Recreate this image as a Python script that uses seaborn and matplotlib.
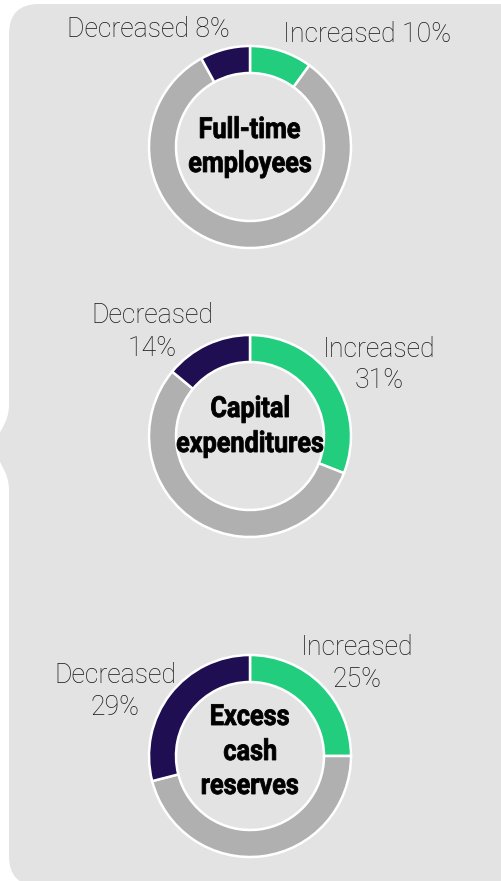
import numpy as np
import matplotlib
matplotlib.use("Agg")
import matplotlib.pyplot as plt
import seaborn as sns
from matplotlib.path import Path
from matplotlib.patches import PathPatch
from matplotlib.textpath import TextPath
from matplotlib.font_manager import FontProperties
from matplotlib.transforms import Affine2D

# ── Data ──
TOPICS = [["Full-time", "employees"], ["Capital", "expenditures"], ["Excess", "cash", "reserves"]]
INCREASED = [10, 31, 25]
DECREASED = [8, 14, 29]
UNCHANGED = [100 - i - d for i, d in zip(INCREASED, DECREASED)]

COLORS = {"Increased": "#22CE7E", "Unchanged": "#B0B0B0", "Decreased": "#1F0E52"}
BG = "#E3E3E3"

sns.set_theme(style="white")
LIGHT = ["Roboto", "Liberation Sans", "DejaVu Sans"]
BOLD_PROP = FontProperties(family=["Roboto", "DejaVu Sans"], weight="bold")

W, H = 501, 881
fig = plt.figure(figsize=(W / 100, H / 100), dpi=100)
ax = fig.add_axes([0, 0, 1, 1])


def py(y):
    # pixel row (top-down) -> data y
    return H - y


# ── Background panel with a left pointer ──
r = 30
verts = [
    (9 + r, py(4)), (W + 20, py(4)), (W + 20, py(H + 20)), (9 + r, py(H + 5)),
    (9, py(H + 5)), (9, py(H + 5 - r)),
    (9, py(490)),
    (9, py(470)), (-4, py(462)), (-4, py(447)),
    (-4, py(432)), (9, py(425)), (9, py(405)),
    (9, py(4 + r)),
    (9, py(4)), (9 + r, py(4)),
    (9 + r, py(4)),
]
codes = [Path.MOVETO, Path.LINETO, Path.LINETO, Path.LINETO,
         Path.CURVE3, Path.CURVE3,
         Path.LINETO,
         Path.CURVE4, Path.CURVE4, Path.CURVE4,
         Path.CURVE4, Path.CURVE4, Path.CURVE4,
         Path.LINETO,
         Path.CURVE3, Path.CURVE3,
         Path.CLOSEPOLY]
ax.add_patch(PathPatch(Path(verts, codes), facecolor=BG, edgecolor="none", zorder=0))


def condensed_text(s, cx, baseline, size=29, squeeze=0.87):
    # bold label squeezed horizontally to mimic a condensed face
    tp = TextPath((0, 0), s, size=size, prop=BOLD_PROP)
    ext = tp.get_extents()
    w = ext.width * squeeze
    tr = Affine2D().translate(-ext.x0, 0).scale(squeeze, 1).translate(cx - w / 2, py(baseline))
    ax.add_patch(PathPatch(tr.transform_path(tp), facecolor="black", edgecolor="black",
                           linewidth=0.6, zorder=5))


# ── Donuts ──
centers = [(250, 147), (250, 436), (250, 756)]
baselines = [[138, 172], [417, 452], [725, 760, 794]]
R, WIDTH = 101, 27
for lines, bl, inc, unc, dec, (cx, cy) in zip(TOPICS, baselines, INCREASED, UNCHANGED,
                                               DECREASED, centers):
    ax.pie([inc, unc, dec],
           colors=[COLORS["Increased"], COLORS["Unchanged"], COLORS["Decreased"]],
           startangle=90, counterclock=False, center=(cx, py(cy)), radius=R,
           wedgeprops=dict(width=WIDTH, edgecolor="white", linewidth=1.8),
           frame=True)
    for s, b in zip(lines, bl):
        condensed_text(s, cx, b)

ax.set_xlim(0, W)
ax.set_ylim(0, H)
ax.set_aspect("equal")
ax.axis("off")

lab = dict(fontsize=19.2, family=LIGHT, fontweight="light", color="#151515",
           ha="center", va="baseline")

# Full-time employees
ax.text(148.5, py(37), f"Decreased {DECREASED[0]}%", **lab)
ax.text(367.5, py(42), f"Increased {INCREASED[0]}%", **lab)
# Capital expenditures
ax.text(152, py(323), "Decreased", **lab)
ax.text(152, py(356), f"{DECREASED[1]}%", **lab)
ax.text(379, py(357), "Increased", **lab)
ax.text(379, py(388), f"{INCREASED[1]}%", **lab)
# Excess cash reserves
ax.text(357, py(655), "Increased", **lab)
ax.text(357, py(687), f"{INCREASED[2]}%", **lab)
ax.text(115, py(683), "Decreased", **lab)
ax.text(115, py(715), f"{DECREASED[2]}%", **lab)

fig.savefig("out.png", dpi=100, facecolor="white")
